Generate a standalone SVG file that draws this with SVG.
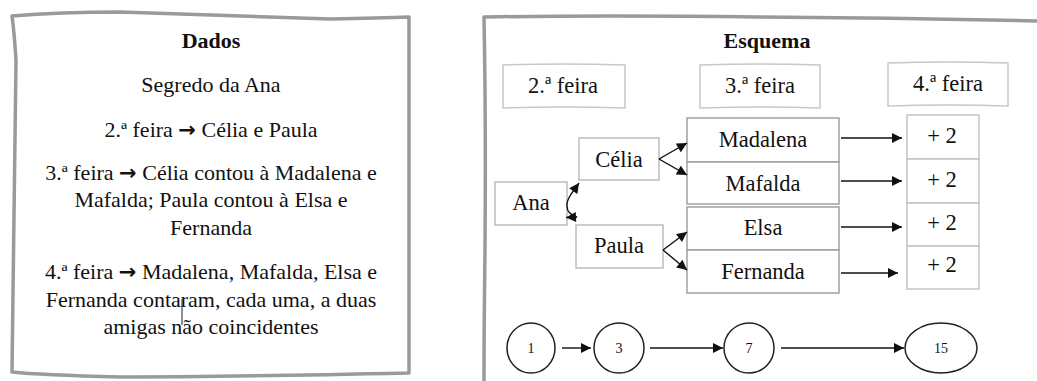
<svg xmlns="http://www.w3.org/2000/svg" width="1037" height="381" viewBox="0 0 1037 381">
<style>
.frame{fill:none;stroke:#9a9a9a;stroke-width:3.5;stroke-linejoin:round}
.t{font-family:'Liberation Serif','DejaVu Serif',serif;fill:#111;text-anchor:middle}
.body{font-size:22px}
.title{font-size:22px;font-weight:bold}
.lbl{font-size:22.5px}
.num{font-size:14px}
.ar{font-family:'DejaVu Sans',sans-serif;font-weight:bold;font-size:21px}
.hdr{fill:#fff;stroke:#c8c8c8;stroke-width:1.5}
.node{fill:#fff;stroke:#bdbdbd;stroke-width:1.5}
.mid{fill:#fff;stroke:#a0a0a0;stroke-width:1.5}
.plus{fill:#fff;stroke:#c4c4c4;stroke-width:1.5}
.circ{fill:#fff;stroke:#222;stroke-width:1.5}
.c{fill:none;stroke:#111;stroke-width:1.4}
</style>
<defs>
<marker id="ah" viewBox="0 0 10 10" refX="10" refY="5" markerWidth="11" markerHeight="10" markerUnits="userSpaceOnUse" orient="auto">
<path d="M0,0 L10,5 L0,10 z" fill="#111"/>
</marker>
</defs>

<g id="panel-dados">
<path class="frame" d="M12,16 Q60,12 120,12 Q230,16 330,19 Q380,18 409,17 L409,373 Q220,377 120,377 Q40,375 12,372 Q14,200 16,60 Q14,30 12,16 Z"/>
<text class="t title" x="211" y="48">Dados</text>
<text class="t body" x="211" y="92">Segredo da Ana</text>
<text class="t body" x="211" y="137">2.ª feira <tspan class="ar">→</tspan> Célia e Paula</text>
<text class="t body" x="211" y="180">3.ª feira <tspan class="ar">→</tspan> Célia contou à Madalena e</text>
<text class="t body" x="211" y="207">Mafalda; Paula contou à Elsa e</text>
<text class="t body" x="211" y="235">Fernanda</text>
<text class="t body" x="211" y="279">4.ª feira <tspan class="ar">→</tspan> Madalena, Mafalda, Elsa e</text>
<text class="t body" x="211" y="307">Fernanda contaram, cada uma, a duas</text>
<text class="t body" x="211" y="334">amigas não coincidentes</text>
<line x1="182" y1="299" x2="182" y2="325" stroke="#222" stroke-width="1"/>
</g>

<g id="panel-esquema">
<path class="frame" d="M1040,21 Q900,18 760,17 Q600,15 484,17 Q486,120 485,250 Q484,330 484,384"/>
<text class="t title" x="767" y="48">Esquema</text>
</g>

<g id="hdr-2">
<path class="hdr" d="M503,65 Q564,63 625,65 L625,108 Q564,106 503,108 Z"/>
<text class="t lbl" x="563" y="93">2.ª feira</text>
</g>
<g id="hdr-3">
<path class="hdr" d="M700,65 Q760,63 820,65 L820,108 Q760,106 700,108 Z"/>
<text class="t lbl" x="760" y="93">3.ª feira</text>
</g>
<g id="hdr-4">
<path class="hdr" d="M888,63 Q948,61 1008,63 L1008,106 Q948,104 888,106 Z"/>
<text class="t lbl" x="948" y="91">4.ª feira</text>
</g>

<g id="ana">
<rect class="node" x="495" y="182" width="72" height="43"/>
<text class="t lbl" x="531" y="210">Ana</text>
</g>
<g id="celia">
<rect class="node" x="579" y="138" width="80" height="42"/>
<text class="t lbl" x="619" y="167">Célia</text>
</g>
<g id="paula">
<rect class="node" x="576" y="225" width="87" height="43"/>
<text class="t lbl" x="619" y="253">Paula</text>
</g>

<g id="madalena">
<rect class="mid" x="687" y="118" width="152" height="44"/>
<text class="t lbl" x="763" y="147">Madalena</text>
</g>
<g id="mafalda">
<rect class="mid" x="687" y="162" width="152" height="42"/>
<text class="t lbl" x="763" y="191">Mafalda</text>
</g>
<g id="elsa">
<rect class="mid" x="687" y="207" width="152" height="43"/>
<text class="t lbl" x="763" y="235">Elsa</text>
</g>
<g id="fernanda">
<rect class="mid" x="687" y="250" width="152" height="43"/>
<text class="t lbl" x="763" y="279">Fernanda</text>
</g>

<g id="plus-1">
<rect class="plus" x="907" y="115" width="72" height="44"/>
<text class="t lbl" x="942" y="143">+ 2</text>
</g>
<g id="plus-2">
<rect class="plus" x="907" y="159" width="72" height="44"/>
<text class="t lbl" x="942" y="187">+ 2</text>
</g>
<g id="plus-3">
<rect class="plus" x="907" y="203" width="72" height="43"/>
<text class="t lbl" x="942" y="230">+ 2</text>
</g>
<g id="plus-4">
<rect class="plus" x="907" y="246" width="72" height="43"/>
<text class="t lbl" x="942" y="272">+ 2</text>
</g>

<g id="n1">
<ellipse class="circ" cx="531" cy="348" rx="24" ry="25"/>
<text class="t num" x="531" y="353">1</text>
</g>
<g id="n3">
<ellipse class="circ" cx="619" cy="348" rx="25" ry="25"/>
<text class="t num" x="619" y="353">3</text>
</g>
<g id="n7">
<ellipse class="circ" cx="749" cy="348" rx="25" ry="25"/>
<text class="t num" x="749" y="353">7</text>
</g>
<g id="n15">
<ellipse class="circ" cx="941" cy="348" rx="36" ry="25"/>
<text class="t num" x="941" y="353">15</text>
</g>

<g id="connectors">
<path class="c" d="M567,206 C566,200 572,193 579,183" marker-end="url(#ah)"/>
<path class="c" d="M567,206 C567,211 570,215 577,217 L566,217.5" marker-end="url(#ah)"/>
<path class="c" d="M659,159 L687,143" marker-end="url(#ah)"/>
<path class="c" d="M659,159 L687,175" marker-end="url(#ah)"/>
<path class="c" d="M663,250 L687,232" marker-end="url(#ah)"/>
<path class="c" d="M663,250 L687,270" marker-end="url(#ah)"/>
<path class="c" d="M841,138 L902,138" marker-end="url(#ah)"/>
<path class="c" d="M841,181 L902,181" marker-end="url(#ah)"/>
<path class="c" d="M841,227 L902,227" marker-end="url(#ah)"/>
<path class="c" d="M841,273 L898,273" marker-end="url(#ah)"/>
<path class="c" d="M562,348 L591,348" marker-end="url(#ah)"/>
<path class="c" d="M650,348 L723,348" marker-end="url(#ah)"/>
<path class="c" d="M781,348 L904,348" marker-end="url(#ah)"/>
</g>
</svg>
